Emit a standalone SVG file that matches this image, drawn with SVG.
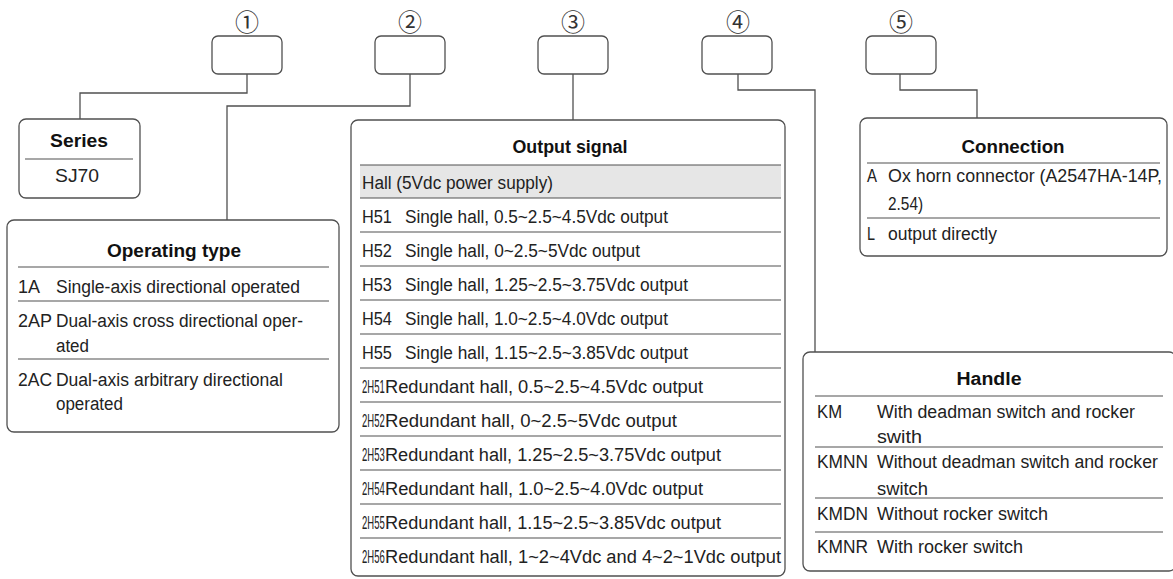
<svg xmlns="http://www.w3.org/2000/svg" width="1173" height="579" viewBox="0 0 1173 579">
<style>
  .bg{fill:#ffffff}
  .box{fill:#ffffff;stroke:#505050;stroke-width:1.3}
  .conn{fill:none;stroke:#505050;stroke-width:1.3}
  .div{stroke:#505050;stroke-width:1.1}
  .t{font-family:'Liberation Sans',Arial,sans-serif;font-size:19px;fill:#222222}
  .h{font-family:'Liberation Sans',Arial,sans-serif;font-size:19px;font-weight:bold;fill:#111111;text-anchor:middle}
  .num{font-family:'Noto Sans CJK JP','DejaVu Sans',sans-serif;font-size:24px;fill:#333333;text-anchor:middle}
  .band{fill:#e6e6e6}
</style>
<rect class="bg" x="0" y="0" width="1173" height="579"/>

<g id="connectors">
  <path class="conn" d="M247 74 V93 H80 V119"/>
  <path class="conn" d="M410 74 V106 H227 V220"/>
  <path class="conn" d="M573 74 V120"/>
  <path class="conn" d="M738 74 V90 H815 V352"/>
  <path class="conn" d="M900 74 V90 H977 V118"/>
</g>

<g id="code1">
  <text class="num" x="247" y="31">①</text>
  <rect class="box" x="212" y="36" width="70" height="38" rx="6"/>
</g>
<g id="code2">
  <text class="num" x="410" y="31">②</text>
  <rect class="box" x="375" y="36" width="70" height="38" rx="6"/>
</g>
<g id="code3">
  <text class="num" x="573" y="31">③</text>
  <rect class="box" x="538" y="36" width="70" height="38" rx="6"/>
</g>
<g id="code4">
  <text class="num" x="738" y="31">④</text>
  <rect class="box" x="702" y="36" width="70" height="38" rx="6"/>
</g>
<g id="code5">
  <text class="num" x="901" y="31">⑤</text>
  <rect class="box" x="866" y="36" width="70" height="38" rx="6"/>
</g>

<g id="series">
  <rect class="box" x="19" y="119" width="121" height="79" rx="7"/>
  <line class="div" x1="25" y1="159" x2="133" y2="159"/>
  <g transform="scale(0.9,1)">
    <text class="h" x="87.8" y="147" textLength="64.4" lengthAdjust="spacingAndGlyphs">Series</text>
    <text class="t" x="85.6" y="182" text-anchor="middle" textLength="48.9" lengthAdjust="spacingAndGlyphs">SJ70</text>
  </g>
</g>

<g id="operating">
  <rect class="box" x="7" y="220" width="332" height="212" rx="7"/>
  <line class="div" x1="18" y1="267" x2="329" y2="267"/>
  <line class="div" x1="18" y1="301" x2="329" y2="301"/>
  <line class="div" x1="18" y1="359" x2="329" y2="359"/>
  <g transform="scale(0.9,1)">
    <text class="h" x="193.3" y="257" textLength="148.9" lengthAdjust="spacingAndGlyphs">Operating type</text>
    <text class="t" x="20" y="293" textLength="24.4" lengthAdjust="spacingAndGlyphs">1A</text>
    <text class="t" x="62.2" y="293" textLength="271.1" lengthAdjust="spacingAndGlyphs">Single-axis directional operated</text>
    <text class="t" x="20" y="327" textLength="37.8" lengthAdjust="spacingAndGlyphs">2AP</text>
    <text class="t" x="62.2" y="327" textLength="274.4" lengthAdjust="spacingAndGlyphs">Dual-axis cross directional oper-</text>
    <text class="t" x="62.2" y="352" textLength="36.7" lengthAdjust="spacingAndGlyphs">ated</text>
    <text class="t" x="20" y="386" textLength="37.8" lengthAdjust="spacingAndGlyphs">2AC</text>
    <text class="t" x="62.2" y="386" textLength="252.2" lengthAdjust="spacingAndGlyphs">Dual-axis arbitrary directional</text>
    <text class="t" x="62.2" y="410" textLength="74.4" lengthAdjust="spacingAndGlyphs">operated</text>
  </g>
</g>

<g id="output">
  <rect class="box" x="351" y="120" width="434" height="456" rx="7"/>
  <rect class="band" x="360" y="165" width="421" height="33"/>
  <line class="div" x1="360" y1="165" x2="781" y2="165"/>
  <line class="div" x1="360" y1="198" x2="781" y2="198"/>
  <line class="div" x1="360" y1="232" x2="781" y2="232"/>
  <line class="div" x1="360" y1="266" x2="781" y2="266"/>
  <line class="div" x1="360" y1="300" x2="781" y2="300"/>
  <line class="div" x1="360" y1="334" x2="781" y2="334"/>
  <line class="div" x1="360" y1="368" x2="781" y2="368"/>
  <line class="div" x1="360" y1="402" x2="781" y2="402"/>
  <line class="div" x1="360" y1="436" x2="781" y2="436"/>
  <line class="div" x1="360" y1="470" x2="781" y2="470"/>
  <line class="div" x1="360" y1="504" x2="781" y2="504"/>
  <line class="div" x1="360" y1="538" x2="781" y2="538"/>
  <g transform="scale(0.9,1)">
    <text class="h" x="633.3" y="153" textLength="127.8" lengthAdjust="spacingAndGlyphs">Output signal</text>
    <text class="t" x="402.2" y="189" textLength="212.2" lengthAdjust="spacingAndGlyphs">Hall (5Vdc power supply)</text>
    <text class="t" x="402.2" y="223" textLength="33.3" lengthAdjust="spacingAndGlyphs">H51</text>
    <text class="t" x="450" y="223" textLength="292.2" lengthAdjust="spacingAndGlyphs">Single hall, 0.5~2.5~4.5Vdc output</text>
    <text class="t" x="402.2" y="257" textLength="33.3" lengthAdjust="spacingAndGlyphs">H52</text>
    <text class="t" x="450" y="257" textLength="261.1" lengthAdjust="spacingAndGlyphs">Single hall, 0~2.5~5Vdc output</text>
    <text class="t" x="402.2" y="291" textLength="33.3" lengthAdjust="spacingAndGlyphs">H53</text>
    <text class="t" x="450" y="291" textLength="314.4" lengthAdjust="spacingAndGlyphs">Single hall, 1.25~2.5~3.75Vdc output</text>
    <text class="t" x="402.2" y="325" textLength="33.3" lengthAdjust="spacingAndGlyphs">H54</text>
    <text class="t" x="450" y="325" textLength="292.2" lengthAdjust="spacingAndGlyphs">Single hall, 1.0~2.5~4.0Vdc output</text>
    <text class="t" x="402.2" y="359" textLength="33.3" lengthAdjust="spacingAndGlyphs">H55</text>
    <text class="t" x="450" y="359" textLength="314.4" lengthAdjust="spacingAndGlyphs">Single hall, 1.15~2.5~3.85Vdc output</text>
    <text class="t" x="427.8" y="393" textLength="353.3" lengthAdjust="spacingAndGlyphs">Redundant hall, 0.5~2.5~4.5Vdc output</text>
    <text class="t" x="427.8" y="427" textLength="324.4" lengthAdjust="spacingAndGlyphs">Redundant hall, 0~2.5~5Vdc output</text>
    <text class="t" x="427.8" y="461" textLength="373.3" lengthAdjust="spacingAndGlyphs">Redundant hall, 1.25~2.5~3.75Vdc output</text>
    <text class="t" x="427.8" y="495" textLength="353.3" lengthAdjust="spacingAndGlyphs">Redundant hall, 1.0~2.5~4.0Vdc output</text>
    <text class="t" x="427.8" y="529" textLength="373.3" lengthAdjust="spacingAndGlyphs">Redundant hall, 1.15~2.5~3.85Vdc output</text>
    <text class="t" x="427.8" y="563" textLength="440" lengthAdjust="spacingAndGlyphs">Redundant hall, 1~2~4Vdc and 4~2~1Vdc output</text>
  </g>
  <text class="t" transform="translate(362,393) scale(0.5,1)">2H51</text>
  <text class="t" transform="translate(362,427) scale(0.5,1)">2H52</text>
  <text class="t" transform="translate(362,461) scale(0.5,1)">2H53</text>
  <text class="t" transform="translate(362,495) scale(0.5,1)">2H54</text>
  <text class="t" transform="translate(362,529) scale(0.5,1)">2H55</text>
  <text class="t" transform="translate(362,563) scale(0.5,1)">2H56</text>
</g>

<g id="connection">
  <rect class="box" x="860" y="118" width="307" height="138" rx="7"/>
  <line class="div" x1="867" y1="163" x2="1160" y2="163"/>
  <line class="div" x1="867" y1="218" x2="1160" y2="218"/>
  <g transform="scale(0.9,1)">
    <text class="h" x="1125.6" y="153" textLength="114.4" lengthAdjust="spacingAndGlyphs">Connection</text>
    <text class="t" x="963.3" y="182" textLength="11.1" lengthAdjust="spacingAndGlyphs">A</text>
    <text class="t" x="986.7" y="182" textLength="304.4" lengthAdjust="spacingAndGlyphs">Ox horn connector (A2547HA-14P,</text>
    <text class="t" x="986.7" y="210" textLength="38.9" lengthAdjust="spacingAndGlyphs">2.54)</text>
    <text class="t" x="963.3" y="240" textLength="8.9" lengthAdjust="spacingAndGlyphs">L</text>
    <text class="t" x="986.7" y="240" textLength="121.1" lengthAdjust="spacingAndGlyphs">output directly</text>
  </g>
</g>

<g id="handle">
  <rect class="box" x="803" y="352" width="373" height="219" rx="7"/>
  <line class="div" x1="815" y1="396" x2="1163" y2="396"/>
  <line class="div" x1="815" y1="447" x2="1163" y2="447"/>
  <line class="div" x1="815" y1="498" x2="1163" y2="498"/>
  <line class="div" x1="815" y1="532" x2="1163" y2="532"/>
  <g transform="scale(0.9,1)">
    <text class="h" x="1098.9" y="385" textLength="72.2" lengthAdjust="spacingAndGlyphs">Handle</text>
    <text class="t" x="907.8" y="418" textLength="27.8" lengthAdjust="spacingAndGlyphs">KM</text>
    <text class="t" x="974.4" y="418" textLength="286.7" lengthAdjust="spacingAndGlyphs">With deadman switch and rocker</text>
    <text class="t" x="974.4" y="443" textLength="50" lengthAdjust="spacingAndGlyphs">swith</text>
    <text class="t" x="907.8" y="468" textLength="56.7" lengthAdjust="spacingAndGlyphs">KMNN</text>
    <text class="t" x="974.4" y="468" textLength="312.2" lengthAdjust="spacingAndGlyphs">Without deadman switch and rocker</text>
    <text class="t" x="974.4" y="495" textLength="56.7" lengthAdjust="spacingAndGlyphs">switch</text>
    <text class="t" x="907.8" y="520" textLength="56.7" lengthAdjust="spacingAndGlyphs">KMDN</text>
    <text class="t" x="974.4" y="520" textLength="190" lengthAdjust="spacingAndGlyphs">Without rocker switch</text>
    <text class="t" x="907.8" y="553" textLength="56.7" lengthAdjust="spacingAndGlyphs">KMNR</text>
    <text class="t" x="974.4" y="553" textLength="162.2" lengthAdjust="spacingAndGlyphs">With rocker switch</text>
  </g>
</g>
</svg>
